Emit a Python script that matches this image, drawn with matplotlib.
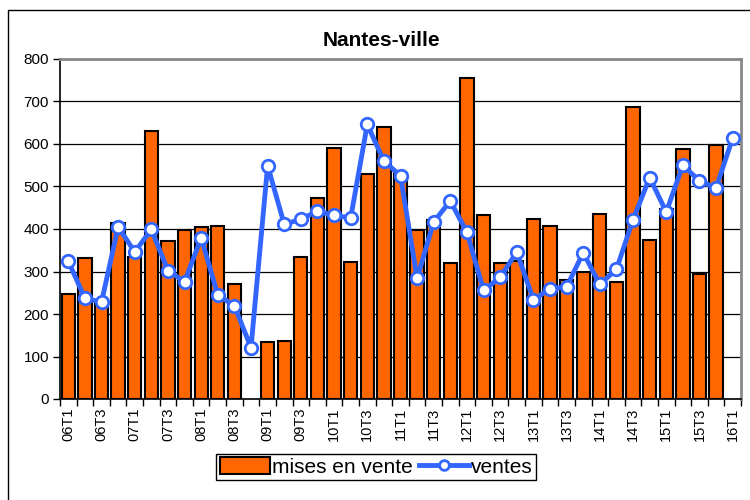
import numpy as np
import matplotlib
matplotlib.use("Agg")
import matplotlib.pyplot as plt
from matplotlib.patches import Rectangle
from matplotlib.lines import Line2D

plt.rcParams['font.family'] = ['Liberation Sans', 'DejaVu Sans']

years = ["06", "07", "08", "09", "10", "11", "12", "13", "14", "15"]
categories = [f"{y}T{q}" for y in years for q in range(1, 5)] + ["16T1"]

mises_en_vente = [248, 331, 225, 415, 335, 631, 371, 398, 404, 407, 270, np.nan,
                  133, 136, 335, 474, 591, 323, 529, 640, 532, 397, 422, 321,
                  755, 434, 321, 324, 424, 408, 281, 300, 435, 276, 687, 374,
                  447, 589, 293, 598, np.nan]
ventes = [324, 237, 228, 405, 346, 399, 302, 276, 379, 245, 219, 121,
          549, 411, 423, 442, 432, 426, 646, 560, 525, 284, 417, 466,
          392, 256, 286, 346, 234, 259, 264, 344, 270, 305, 422, 521,
          440, 550, 513, 497, 614]

fig = plt.figure(figsize=(7.5, 5), dpi=100)
fig.patch.set_facecolor('white')
# outer chart border
fig.add_artist(Rectangle((8/750, -0.01), 1.0, 1 - 10/500 + 0.01, transform=fig.transFigure,
                         fill=False, edgecolor='black', linewidth=1.0))

ax = fig.add_axes([60/750, 101/500, 681/750, 340/500])
x = np.arange(len(categories))
ax.bar(x, mises_en_vente, width=0.8, color='#FF6600', edgecolor='black', linewidth=1.5,
       zorder=2, label='mises en vente')
ax.plot(x, ventes, color='#3366FF', linewidth=3.5, marker='o', markersize=9,
        markerfacecolor='white', markeredgecolor='#3366FF', markeredgewidth=2,
        zorder=3, label='ventes')

ax.set_xlim(-0.5, len(categories) - 0.5)
ax.set_ylim(0, 800)
ax.set_yticks(np.arange(0, 801, 100))
ax.yaxis.grid(True, color='black', linewidth=0.9, zorder=0)
ax.set_axisbelow(True)

ax.set_xticks(np.arange(-0.5, len(categories), 1.0))
ax.set_xticklabels([])
ax.set_xticks(x[::2], minor=True)
ax.set_xticklabels([categories[i] for i in x[::2]], minor=True, rotation=90, fontsize=10.5)
ax.tick_params(axis='x', which='minor', length=0, pad=6)
ax.tick_params(axis='x', which='major', length=5, width=1, direction='out')
ax.tick_params(axis='y', length=5, width=1, labelsize=11, pad=3)

for s in ['top', 'right']:
    ax.spines[s].set_color('#888888')
    ax.spines[s].set_linewidth(2)
for s in ['left', 'bottom']:
    ax.spines[s].set_color('black')
    ax.spines[s].set_linewidth(1.2)

fig.text(381/750, 1 - 40/500, 'Nantes-ville', fontsize=15, fontweight='bold',
         ha='center', va='center')

handles = [Rectangle((0, 0), 1, 1, facecolor='#FF6600', edgecolor='black', linewidth=1.5),
           Line2D([], [], color='#3366FF', linewidth=3.5, marker='o', markersize=7,
                  markerfacecolor='white', markeredgecolor='#3366FF', markeredgewidth=2)]
fig.legend(handles, ['mises en vente', 'ventes'], loc='center', bbox_to_anchor=(376/750, 1 - 467/500),
           ncol=2, fontsize=15, frameon=True, fancybox=False, edgecolor='black',
           handlelength=2.4, handleheight=0.9, handletextpad=0.1, columnspacing=0.3,
           borderpad=0.15, borderaxespad=0, framealpha=1)

fig.savefig('out.png', dpi=100, facecolor='white')
